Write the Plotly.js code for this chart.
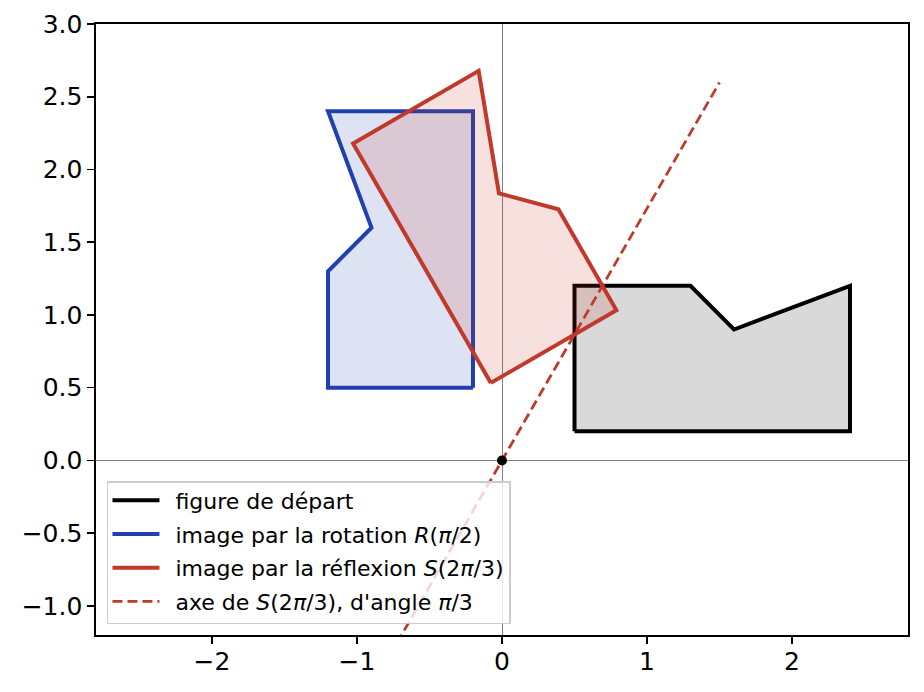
<!DOCTYPE html>
<html>
<head>
<meta charset="utf-8">
<script src="https://cdn.plot.ly/plotly-3.0.1.min.js"></script>
<style>html,body{margin:0;padding:0;background:#fff;}#chart{width:924px;height:692px;}</style>
</head>
<body>
<div id="chart"></div>
<script>
// Original figure vertices (closed)
const startX = [0.5, 2.4, 2.4, 1.6, 1.3, 0.5, 0.5];
const startY = [0.2, 0.2, 1.2, 0.9, 1.2, 1.2, 0.2];
// Image by rotation R(pi/2)
const rotX = [-0.2, -0.2, -1.2, -0.9, -1.2, -1.2, -0.2];
const rotY = [0.5, 2.4, 2.4, 1.6, 1.3, 0.5, 0.5];
// Image by reflection S(2pi/3)
const refX = [-0.077, -1.027, -0.161, -0.021, 0.389, 0.789, -0.077];
const refY = [0.533, 2.178, 2.678, 1.836, 1.726, 1.033, 0.533];
// Axis of the reflection (angle pi/3)
const axisX = [-1.5, 1.5];
const axisY = [-2.598, 2.598];
// Origin
const originX = [0];
const originY = [0];

const names = [
  'figure de départ',
  'image par la rotation <i>R</i>(<i>π</i>/2)',
  'image par la réflexion <i>S</i>(2<i>π</i>/3)',
  'axe de <i>S</i>(2<i>π</i>/3), d\'angle <i>π</i>/3'
];

const black = '#000000', blue = '#2140b0', red = '#c0392b';

function fillTrace(x, y, col) {
  return {x: x, y: y, mode: 'lines', fill: 'toself', fillcolor: col,
          line: {width: 0, color: col}, showlegend: false, hoverinfo: 'skip'};
}
function lineTrace(x, y, col, name) {
  return {x: x, y: y, mode: 'lines', name: name,
          line: {width: 4, color: col, simplify: false}};
}

const traces = [
  fillTrace(startX, startY, 'rgba(0,0,0,0.15)'),
  lineTrace(startX, startY, black, names[0]),
  fillTrace(rotX, rotY, 'rgba(33,64,176,0.15)'),
  lineTrace(rotX, rotY, blue, names[1]),
  fillTrace(refX, refY, 'rgba(192,57,43,0.15)'),
  lineTrace(refX, refY, red, names[2]),
  {x: axisX, y: axisY, mode: 'lines', name: names[3],
   line: {width: 2.8, color: red, dash: '10px,5px'}},
  {x: originX, y: originY, mode: 'markers', showlegend: false,
   marker: {size: 10, color: black}}
];

const axisCommon = {
  showgrid: false, zeroline: true, zerolinecolor: '#808080', zerolinewidth: 1,
  showline: true, linecolor: '#000', linewidth: 1.6, mirror: true,
  ticks: 'outside', ticklen: 7, tickwidth: 1.6, tickcolor: '#000',
  tickfont: {family: 'DejaVu Sans', size: 25, color: '#000'}
};

const layout = {
  width: 924, height: 692,
  margin: {l: 96, r: 16, t: 24, b: 57},
  paper_bgcolor: '#fff', plot_bgcolor: '#fff',
  font: {family: 'DejaVu Sans', color: '#000'},
  xaxis: Object.assign({}, axisCommon, {range: [-2.8, 2.8], tickvals: [-2, -1, 0, 1, 2], ticklabelstandoff: -4}),
  yaxis: Object.assign({}, axisCommon, {range: [-1.2, 3.0], dtick: 0.5, tick0: 0, tickformat: '.1f'}),
  legend: {x: 0.0135, y: 0.018, xanchor: 'left', yanchor: 'bottom', itemwidth: 57,
           bgcolor: 'rgba(255,255,255,0.8)', bordercolor: '#cccccc', borderwidth: 1.5,
           font: {family: 'DejaVu Sans', size: 22, color: '#000'}},
  showlegend: true
};

Plotly.newPlot('chart', traces, layout, {displayModeBar: false, staticPlot: true}).then(function () {
  const leg = document.querySelector('.legend');
  if (!leg) return;
  // longer line samples, as in the reference
  leg.querySelectorAll('.legendlines path').forEach(function (p) {
    p.setAttribute('d', 'M4,0h47');
  });
  // slightly larger row spacing
  const items = Array.from(leg.querySelectorAll('.traces'));
  const parse = function (el) {
    const m = /translate\(\s*([-\d.]+)[ ,]+([-\d.]+)\s*\)/.exec(el.getAttribute('transform') || '');
    return m ? [parseFloat(m[1]), parseFloat(m[2])] : [0, 0];
  };
  if (items.length > 1) {
    const p0 = parse(items[0]);
    const step = 33.7;
    items.forEach(function (el, i) {
      const p = parse(el);
      el.setAttribute('transform', 'translate(' + p[0] + ',' + (p0[1] - 3 + i * step) + ')');
    });
    const extra = 3;
    const bg = leg.querySelector('rect.bg');
    if (bg) bg.setAttribute('height', parseFloat(bg.getAttribute('height')) + extra);
    document.querySelectorAll('clipPath[id^="legend"] rect').forEach(function (r) {
      r.setAttribute('height', parseFloat(r.getAttribute('height')) + extra + 10);
    });
    const gp = parse(leg);
    leg.setAttribute('transform', 'translate(' + gp[0] + ',' + (gp[1] - extra) + ')');
  }
});
</script>
</body>
</html>
